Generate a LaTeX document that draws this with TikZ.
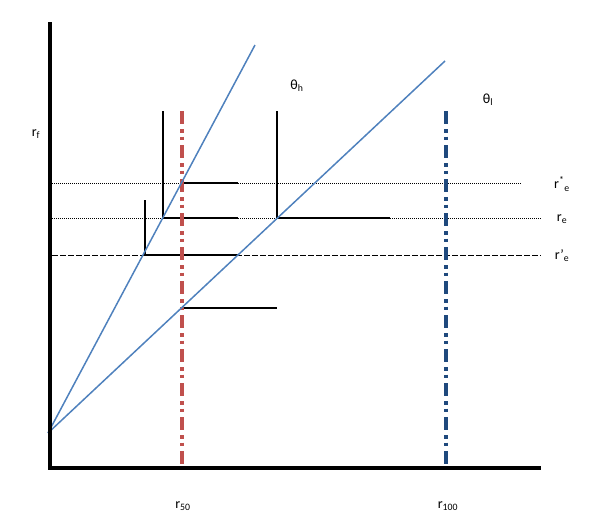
\documentclass[tikz,border=0pt]{standalone}
\usepackage{fontspec}
\setmainfont{Carlito}
\definecolor{lineblue}{HTML}{4F81BD}
\definecolor{redd}{HTML}{C0504D}
\definecolor{darkb}{HTML}{1F497D}
\begin{document}
\begin{tikzpicture}[x=1pt,y=-1pt,
  axis/.style={line width=3.5pt},
  ray/.style={lineblue,line width=1.5pt},
  dashdotdot/.style={line width=3.5pt,dash pattern=on 13pt off 5pt on 3.5pt off 4pt on 3.5pt off 5pt},
  seg/.style={line width=1.3pt},
  dotline/.style={line width=1pt,dash pattern=on 1pt off 1pt},
  dashline/.style={line width=1pt,dash pattern=on 6pt off 2pt},
  lbl/.style={font=\fontsize{14}{16}\selectfont,inner sep=0pt}]
\useasboundingbox (0,0) rectangle (600,523);
% named points
\coordinate (ytop) at (50,22);
\coordinate (ybot) at (50,470);
\coordinate (xl) at (48,468);
\coordinate (xr) at (541,468);
\coordinate (o) at (48,433);
\coordinate (hend) at (255,45);
\coordinate (lend) at (445,61);
\coordinate (r50t) at (182,111);
\coordinate (r50b) at (182,467);
\coordinate (r100t) at (446,111);
\coordinate (r100b) at (446,467);
% horizontal reference lines
\coordinate (sL) at (52,183); \coordinate (sR) at (521,183);
\coordinate (eL) at (52,218); \coordinate (eR) at (541,218);
\coordinate (pL) at (52,255); \coordinate (pR) at (541,255);
\draw[dotline] (sL) -- (sR);
\draw[dotline] (eL) -- (eR);
\draw[dashline] (pL) -- (pR);
% solid segments
\coordinate (a1) at (182,183); \coordinate (a2) at (238,183);
\coordinate (b1) at (163,218); \coordinate (b2) at (238,218);
\coordinate (c1) at (277,218); \coordinate (c2) at (390,218);
\coordinate (d1) at (145,255); \coordinate (d2) at (238,255);
\coordinate (f1) at (182,308); \coordinate (f2) at (277,308);
\draw[seg] (a1) -- (a2);
\draw[seg] (b1) -- (b2);
\draw[seg] (c1) -- (c2);
\draw[seg] (d1) -- (d2);
\draw[seg] (f1) -- (f2);
% vertical segments
\coordinate (v1t) at (163,111);
\coordinate (v2t) at (277,111);
\coordinate (v3t) at (145,200);
\draw[seg] (v1t) -- (b1);
\draw[seg] (v2t) -- (c1);
\draw[seg] (v3t) -- (d1);
% dash-dot verticals
\draw[dashdotdot,redd] (r50t) -- (r50b);
\draw[dashdotdot,darkb] (r100t) -- (r100b);
% rays
\draw[ray] (o) -- (hend);
\draw[ray] (o) -- (lend);
% axes
\draw[axis] (ytop) -- (ybot);
\draw[axis] (xl) -- (xr);
% labels
\node[lbl] (lrf) at (36,134) {r\textsubscript{f}};
\node[lbl] (lth) at (297,86) {θ\textsubscript{h}};
\node[lbl] (ltl) at (488,100) {θ\textsubscript{l}};
\node[lbl] (lrs) at (562,184) {r\textsuperscript{*}\textsubscript{e}};
\node[lbl] (lre) at (562,219) {r\textsubscript{e}};
\node[lbl] (lrp) at (562,256) {r'\textsubscript{e}};
\node[lbl] (l50) at (183,506) {r\textsubscript{50}};
\node[lbl] (l100) at (448,506) {r\textsubscript{100}};
\end{tikzpicture}
\end{document}
